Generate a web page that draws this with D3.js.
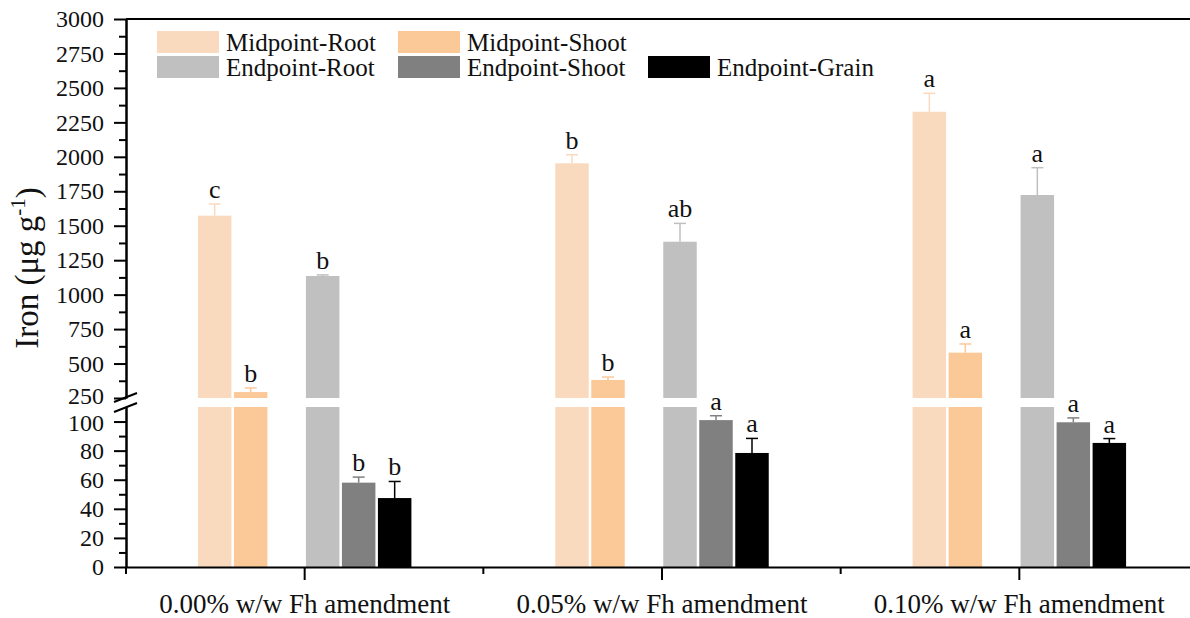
<!DOCTYPE html>
<html lang="en">
<head>
<meta charset="utf-8">
<script src="https://cdn.jsdelivr.net/npm/d3@7"></script>
<style>
    body { margin: 0; background: #fff; }
    svg text { font-family: "Liberation Serif", "Times New Roman", serif; fill: #111; }
</style>
</head>
<body>
<svg id="chart" width="1190" height="618"></svg>
<script>
// categories and slots (Midpoint-Grain slot is empty in the figure)
var categories = ["0.00% w/w Fh amendment", "0.05% w/w Fh amendment", "0.10% w/w Fh amendment"];
var slots = ["Midpoint-Root", "Midpoint-Shoot", "Midpoint-Grain", "Endpoint-Root", "Endpoint-Shoot", "Endpoint-Grain"];
var seriesNames = ["Midpoint-Root", "Midpoint-Shoot", "Endpoint-Root", "Endpoint-Shoot", "Endpoint-Grain"];
var seriesColors = ["#F9DABF", "#FBC898", "#C0C0C0", "#808080", "#000000"];

// values (ug/g)
var midRoot = [1573, 1953, 2327];
var midRootErr = [85, 62, 134];
var midShoot = [293, 381, 579];
var midShootErr = [30, 21, 63];
var endRoot = [1135, 1384, 1723];
var endRootErr = [8, 133, 198];
var endShoot = [58, 101, 99.5];
var endShootErr = [3.8, 3, 3];
var endGrain = [47.4, 78.4, 85.3];
var endGrainErr = [11.4, 10, 3];

// significance letters
var midRootSig = ["c", "b", "a"];
var midShootSig = ["b", "b", "a"];
var endRootSig = ["b", "ab", "a"];
var endShootSig = ["b", "a", "a"];
var endGrainSig = ["b", "a", "a"];

// tick values for the broken axis
var lowTicks = [0, 20, 40, 60, 80, 100];
var lowMinor = [10, 30, 50, 70, 90];
var highTicks = [250, 500, 750, 1000, 1250, 1500, 1750, 2000, 2250, 2500, 2750, 3000];
var highMinor = [375, 625, 875, 1125, 1375, 1625, 1875, 2125, 2375, 2625, 2875];

var values = [midRoot, midShoot, endRoot, endShoot, endGrain];
var errors = [midRootErr, midShootErr, endRootErr, endShootErr, endGrainErr];
var sigs = [midRootSig, midShootSig, endRootSig, endShootSig, endGrainSig];

var svg = d3.select("#chart");
var left = 126, right = 1198, baseY = 567, topY = 19;
var serif = "'Liberation Serif', 'Times New Roman', serif";

// two y scales for the broken axis
var yLow = d3.scaleLinear().domain([0, 110]).range([baseY, 407]);
var yHigh = d3.scaleLinear().domain([250, 3000]).range([398, topY]);
function yVal(v) { return v <= 110 ? yLow(v) : yHigh(v); }

var x0 = d3.scaleBand().domain(categories).range([left, right]);
var groupW = 216;
var x1 = d3.scaleBand().domain(slots).range([0, groupW]).paddingInner(0.07).paddingOuter(0.035);

// build flat list of bars
var bars = [];
seriesNames.forEach(function (s, si) {
    categories.forEach(function (c, ci) {
        bars.push({ series: s, color: seriesColors[si], cat: c,
            value: values[si][ci], err: errors[si][ci], sig: sigs[si][ci] });
    });
});
function barX(d) { return x0(d.cat) + x0.bandwidth() / 2 - groupW / 2 + x1(d.series); }

// lower panel bars (clipped at 110)
svg.append("g").selectAll("rect").data(bars).enter().append("rect")
    .attr("x", barX)
    .attr("width", x1.bandwidth())
    .attr("y", d => yLow(Math.min(d.value, 110)))
    .attr("height", d => baseY - yLow(Math.min(d.value, 110)))
    .attr("fill", d => d.color);

// upper panel bars
svg.append("g").selectAll("rect").data(bars.filter(d => d.value > 250)).enter().append("rect")
    .attr("x", barX)
    .attr("width", x1.bandwidth())
    .attr("y", d => yHigh(d.value))
    .attr("height", d => 398 - yHigh(d.value))
    .attr("fill", d => d.color);

// error bars
var eg = svg.append("g").selectAll("g").data(bars).enter().append("g")
    .attr("stroke", d => d.color).attr("stroke-width", 1.5);
eg.append("line")
    .attr("x1", d => barX(d) + x1.bandwidth() / 2).attr("x2", d => barX(d) + x1.bandwidth() / 2)
    .attr("y1", d => yVal(d.value)).attr("y2", d => yVal(d.value + d.err));
eg.append("line")
    .attr("x1", d => barX(d) + x1.bandwidth() / 2 - 6).attr("x2", d => barX(d) + x1.bandwidth() / 2 + 6)
    .attr("y1", d => yVal(d.value + d.err)).attr("y2", d => yVal(d.value + d.err));

// letters
svg.append("g").selectAll("text").data(bars).enter().append("text")
    .attr("x", d => barX(d) + x1.bandwidth() / 2)
    .attr("y", d => yVal(d.value + d.err) - 6)
    .attr("text-anchor", "middle")
    .style("font-size", "26px")
    .text(d => d.sig);

// y axes
function styleAxis(g) {
    g.attr("font-family", null);
    g.selectAll("path, line").attr("stroke", "#000").attr("stroke-width", 2);
    g.selectAll("text").style("font-size", "24px").attr("fill", "#111").style("font-family", serif);
}
var fmt = d3.format("d");
svg.append("g").attr("transform", "translate(" + left + ",0)")
    .call(d3.axisLeft(yLow).tickValues(lowTicks).tickFormat(fmt).tickSize(12).tickSizeOuter(0).tickPadding(10))
    .call(styleAxis)
    .selectAll(".tick text").filter(d => d === 100).attr("y", 1);
svg.append("g").attr("transform", "translate(" + left + ",0)")
    .call(d3.axisLeft(yLow).tickValues(lowMinor).tickSize(7).tickSizeOuter(0).tickFormat(""))
    .call(styleAxis);
svg.append("g").attr("transform", "translate(" + left + ",0)")
    .call(d3.axisLeft(yHigh).tickValues(highTicks).tickFormat(fmt).tickSize(12).tickSizeOuter(0).tickPadding(10))
    .call(styleAxis)
    .selectAll(".tick text").filter(d => d === 250).attr("y", -2);
svg.append("g").attr("transform", "translate(" + left + ",0)")
    .call(d3.axisLeft(yHigh).tickValues(highMinor).tickSize(7).tickSizeOuter(0).tickFormat(""))
    .call(styleAxis);

// break marks
[[402, 393], [412, 403]].forEach(function (p) {
    svg.append("line").attr("x1", 114).attr("y1", p[0]).attr("x2", 137).attr("y2", p[1])
        .attr("stroke", "#000").attr("stroke-width", 2);
});

// top frame line
svg.append("line").attr("x1", left).attr("x2", right).attr("y1", topY).attr("y2", topY)
    .attr("stroke", "#000").attr("stroke-width", 2);

// x axis
var xAxisG = svg.append("g").attr("transform", "translate(0," + baseY + ")")
    .call(d3.axisBottom(x0).tickSize(13).tickSizeOuter(0).tickPadding(14));
xAxisG.attr("font-family", null);
xAxisG.selectAll("path, line").attr("stroke", "#000").attr("stroke-width", 2);
xAxisG.selectAll("text").style("font-size", "27px").attr("fill", "#111").style("font-family", serif);
// short ticks at category boundaries
svg.append("g").selectAll("line").data(categories).enter().append("line")
    .attr("x1", d => x0(d)).attr("x2", d => x0(d))
    .attr("y1", baseY).attr("y2", baseY + 7)
    .attr("stroke", "#000").attr("stroke-width", 2);

// y label
var yl = svg.append("text")
    .attr("transform", "translate(38,268) rotate(-90)")
    .attr("text-anchor", "middle")
    .style("font-size", "33px");
yl.append("tspan").text("Iron (\u03bcg g");
yl.append("tspan").attr("dy", "-0.6em").style("font-size", "21px").text("-1");
yl.append("tspan").attr("dy", "0.4em").text(")");

// legend
var legCols = [157, 398, 648], legRows = [31, 56];
var leg = svg.append("g").selectAll("g").data(seriesNames).enter().append("g")
    .attr("transform", function (d) {
        var i = slots.indexOf(d);
        return "translate(" + legCols[i % 3] + "," + legRows[Math.floor(i / 3)] + ")";
    });
leg.append("rect").attr("width", 62).attr("height", 22)
    .attr("fill", (d, i) => seriesColors[i]);
leg.append("text").attr("x", 69).attr("y", 11).attr("dy", "0.35em")
    .style("font-size", "25px").text(d => d);
</script>
</body>
</html>
